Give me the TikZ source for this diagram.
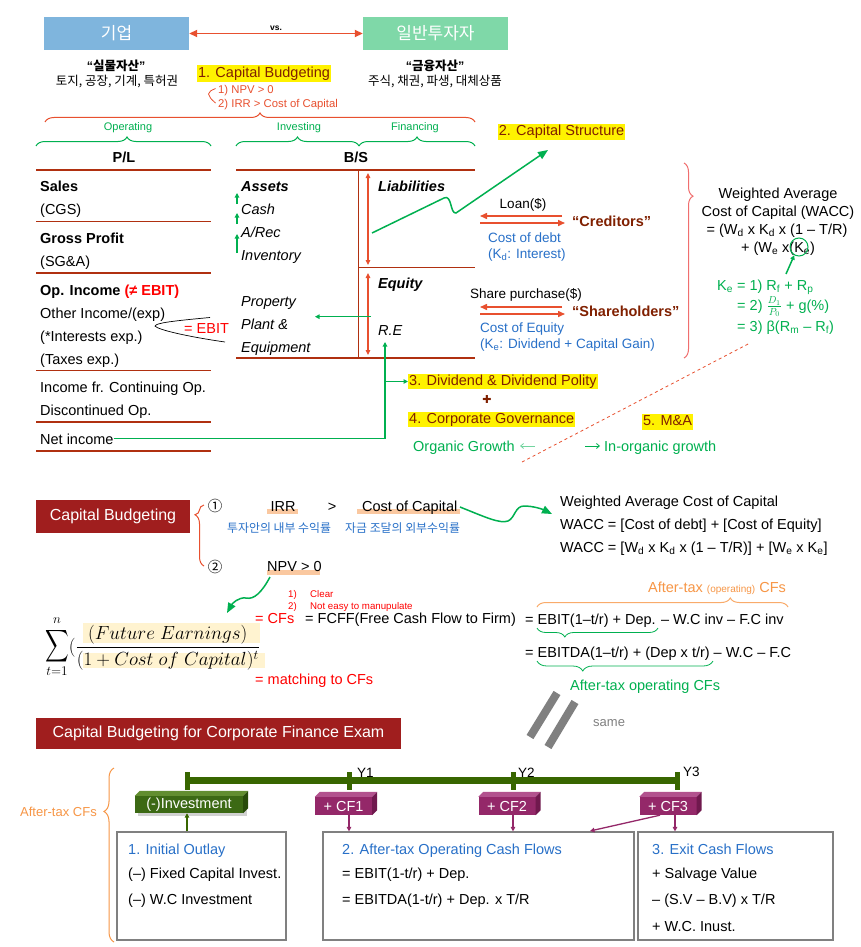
\documentclass[tikz,border=0pt]{standalone}
\usepackage{fix-cm}
\usepackage{exscale}
\usepackage[no-math]{fontspec}
\setmainfont{Liberation Sans}
\newfontfamily\kr{Noto Sans CJK KR}
\newfontfamily\dv{DejaVu Sans}
\usetikzlibrary{arrows.meta,decorations.pathreplacing,calc}
\newcommand\fz[1]{\fontsize{#1}{#1}\selectfont}
\definecolor{blueA}{RGB}{127,181,221}
\definecolor{greenA}{RGB}{127,216,168}
\definecolor{redA}{RGB}{232,80,47}
\definecolor{lineR}{RGB}{176,48,16}
\definecolor{dred}{RGB}{128,32,0}
\definecolor{grn}{RGB}{0,176,80}
\definecolor{blu}{RGB}{40,112,200}
\definecolor{orng}{RGB}{247,150,70}
\definecolor{peach}{RGB}{250,200,160}
\definecolor{ltyel}{RGB}{255,243,208}
\definecolor{boxred}{RGB}{160,30,30}
\definecolor{tlg}{RGB}{56,102,0}
\definecolor{magF}{RGB}{148,40,105}
\definecolor{magT}{RGB}{178,82,142}
\definecolor{magS}{RGB}{112,25,78}
\definecolor{invF}{RGB}{60,105,20}
\definecolor{invT}{RGB}{98,142,48}
\definecolor{invS}{RGB}{40,75,10}
\definecolor{pinkR}{RGB}{240,110,110}
\definecolor{rd}{RGB}{255,0,0}
\definecolor{gryA}{RGB}{128,128,128}
\newcommand\cubefaces[3]{%
  \fill[#2] (#1.north west) -- ++(5,-5) -- ($(#1.north east)+(5,-5)$) -- (#1.north east) -- cycle;
  \fill[#3] (#1.north east) -- ++(5,-5) -- ($(#1.south east)+(5,-5)$) -- (#1.south east) -- cycle;}
\begin{document}
\begin{tikzpicture}[x=1pt,y=-1pt,
  tx/.style={anchor=base west,inner sep=0pt,font=\fz{14.5}},
  txc/.style={anchor=base,inner sep=0pt,font=\fz{14.5}},
  hl/.style={anchor=west,fill=yellow,text=dred,inner xsep=1pt,inner ysep=1pt,text height=10.5pt,text depth=3pt,font=\fz{14.5}},
  arr/.style={-{Triangle[length=7pt,width=6pt]}},
  sarr/.style={-{Triangle[length=4.5pt,width=4.5pt]}},
  barr/.style={-{Triangle[length=10pt,width=8pt]}},
  thinarr/.style={line width=0.8pt,-{Straight Barb[length=3pt,width=5pt]}},
  darr/.style={{Triangle[length=8pt,width=7pt]}-{Triangle[length=8pt,width=7pt]}},
  vdarr/.style={{Triangle[length=5pt,width=4.5pt]}-{Triangle[length=5pt,width=4.5pt]}},
  rule/.style={lineR,line width=2pt},
  thinrule/.style={lineR,line width=1.1pt},
  brc/.style={decorate,line width=1pt},
  cfbox/.style={fill=magF,text=white,minimum width=57pt,minimum height=18pt,inner sep=0pt,font=\fz{14.5}},
  obox/.style={draw=gryA,line width=1.2pt,inner sep=0pt}
]
\fill[white] (0,0) rectangle (860,947);
\useasboundingbox (0,0) rectangle (860,947);

% ---------------- top ----------------
\node (firm) [fill=blueA,minimum width=145pt,minimum height=33pt,inner sep=0pt,text=white,font=\kr\fz{17}] at (116.5,33.5) {기업};
\node (invr) [fill=greenA,minimum width=145pt,minimum height=33pt,inner sep=0pt,text=white,font=\kr\fz{17}] at (435.5,33.5) {일반투자자};
\draw[redA,line width=1.8pt,darr] (firm.east) -- (invr.west);
\node (vs) [inner sep=0pt,font=\bfseries\fz{8.5}] at (276,28) {vs.};
\node (real) [anchor=base,inner sep=0pt,font=\bfseries\fz{12.5}] at (116,71) {“{\kr 실물자산}”};
\node (realx) [anchor=base,inner sep=0pt,font=\kr\fz{12.5}] at (117,85.5) {토지, 공장, 기계, 특허권};
\node (fin) [anchor=base,inner sep=0pt,font=\bfseries\fz{12.5}] at (435,71) {“{\kr 금융자산}”};
\node (finx) [anchor=base,inner sep=0pt,font=\kr\fz{12.5}] at (435,85.5) {주식, 채권, 파생, 대체상품};

\node (cb1) [hl,anchor=center,text height=11pt,text depth=3.5pt] at (264,73.5) {1. Capital Budgeting};
\node (npv0) [tx,font=\fz{11.3},text=redA] at (218,94) {1) NPV > 0};
\node (irr0) [tx,font=\fz{11.3},text=redA] at (218,108) {2) IRR > Cost of Capital};
\draw[redA,line width=0.8pt] (215.5,88.5) .. controls (210,91) .. (208.5,94) .. controls (210,98) .. (215.5,103);

\draw[redA,brc,decoration={brace,amplitude=9pt,aspect=0.5}] (45,122) -- (475,122);

\node (opl) [txc,font=\fz{11},text=grn] at (128,131) {Operating};
\node (invl) [txc,font=\fz{11},text=grn] at (299,131) {Investing};
\node (finl) [txc,font=\fz{11},text=grn] at (415,131) {Financing};
\draw[grn,brc,decoration={brace,amplitude=9pt,aspect=0.52}] (36,146) -- (211,146);
\draw[grn,brc,decoration={brace,amplitude=9pt,aspect=0.5}] (236,146) -- (359,146);
\draw[grn,brc,decoration={brace,amplitude=9pt,aspect=0.5}] (359,146) -- (475,146);

% ---------------- P/L ----------------
\node (pl) [txc,font=\bfseries\fz{14.5}] at (124,162) {P/L};
\draw[rule] (36,170) -- (211,170);
\node (sales) [tx,font=\bfseries\fz{14.5}] at (40,191.5) {Sales};
\node (cgs) [tx] at (40,214) {(CGS)};
\draw[thinrule] (36,221.5) -- (211,221.5);
\node (gp) [tx,font=\bfseries\fz{14.5}] at (40,243) {Gross Profit};
\node (sga) [tx] at (40,266) {(SG\&A)};
\draw[thinrule] (36,273) -- (211,273);
\node (opi) [tx,font=\bfseries\fz{14.5}] at (40,295) {Op. Income \textcolor{rd}{(≠ EBIT)}};
\node (oth) [tx] at (40,318) {Other Income/(exp)};
\node (intx) [tx] at (40,341) {(*Interests exp.)};
\node (tax) [tx] at (40,364) {(Taxes exp.)};
\draw[thinrule] (36,370.5) -- (211,370.5);
\node (cont) [tx] at (40,392) {Income fr. Continuing Op.};
\node (disc) [tx] at (40,415) {Discontinued Op.};
\draw[thinrule] (36,422) -- (211,422);
\node (ni) [tx] at (40,444) {Net income};
\draw[rule] (36,450.5) -- (211,450.5);

\draw[black,line width=0.7pt] (210,317.5) .. controls (172,321) and (156,323) .. (155,326) .. controls (158,330) and (190,337) .. (225,342);
\node (ebit) [tx,text=rd] at (184,333) {= EBIT};

% ---------------- B/S ----------------
\node (bs) [txc,font=\bfseries\fz{14.5}] at (356,162) {B/S};
\draw[rule] (236,170) -- (475,170);
\draw[thinrule] (358.5,170) -- (358.5,358);
\draw[thinrule] (358.5,267.5) -- (475,267.5);
\draw[lineR,line width=2.5pt] (236,358) -- (475,358);
\node (ast) [tx,font=\bfseries\itshape\fz{14.5}] at (241,191.5) {Assets};
\node (cash) [tx,font=\itshape\fz{14.5}] at (241,214) {Cash};
\node (arec) [tx,font=\itshape\fz{14.5}] at (241,237) {A/Rec};
\node (invt) [tx,font=\itshape\fz{14.5}] at (241,260) {Inventory};
\node (prop) [tx,font=\itshape\fz{14.5}] at (241,306) {Property};
\node (plant) [tx,font=\itshape\fz{14.5}] at (241,329) {Plant \&};
\node (equip) [tx,font=\itshape\fz{14.5}] at (241,352) {Equipment};
\node (liab) [tx,font=\bfseries\itshape\fz{14.5}] at (378,191.5) {Liabilities};
\node (eqty) [tx,font=\bfseries\itshape\fz{14.5}] at (378,288.5) {Equity};
\node (re) [tx,font=\itshape\fz{14.5}] at (378,335) {R.E};

\draw[grn,line width=1.3pt,sarr] (237,204) -- (237,193);
\draw[grn,line width=1.3pt,sarr] (237,224) -- (237,213);
\draw[grn,line width=1.3pt,sarr] (237,253) -- (237,234);
\draw[redA,line width=1.2pt,vdarr] (368,173) -- (368,265);
\draw[redA,line width=1.2pt,vdarr] (368,273) -- (368,355);

\coordinate (reL) at (371,316.7);
\coordinate (ppeR) at (315,316.7);
\draw[grn,line width=1.3pt,sarr] (reL) -- (ppeR);

% Net income path
\coordinate (jn) at (385,440);
\coordinate (reB) at (385,342);
\draw[grn,line width=1.3pt] (ni.east) -- (ni.east -| jn);
\draw[grn,line width=1.3pt,sarr] (ni.east -| jn) -- (reB);

% ---------------- capital structure ----------------
\node (cs) [hl,anchor=center] at (561.5,132) {2. Capital Structure};
\coordinate (zz) at (372,233);
\coordinate (cstip) at (548,150);
\draw[grn,line width=1.5pt,barr] (zz) -- (444,198) .. controls (452,194) and (450,214) .. (456,213) -- (cstip);

\node (loan) [txc,font=\fz{13.5}] at (523,208) {Loan(\$)};
\coordinate (la1) at (562,216); \coordinate (la2) at (480,216);
\coordinate (lb1) at (480,223); \coordinate (lb2) at (565,223);
\draw[redA,line width=1.5pt,arr] (la1) -- (la2);
\draw[redA,line width=1.5pt,arr] (lb1) -- (lb2);
\node (cred) [tx,font=\bfseries\fz{14.5},text=dred] at (572,226) {“Creditors”};
\node (cod) [tx,font=\fz{13.5},text=blu] at (488,242) {Cost of debt};
\node (kd) [tx,font=\fz{13.5},text=blu] at (488,258) {(K\textsubscript{d}: Interest)};

\node (shp) [tx,font=\fz{13.5}] at (470,298) {Share purchase(\$)};
\coordinate (sa1) at (562,307); \coordinate (sa2) at (480,307);
\coordinate (sb1) at (480,314); \coordinate (sb2) at (565,314);
\draw[redA,line width=1.5pt,arr] (sa1) -- (sa2);
\draw[redA,line width=1.5pt,arr] (sb1) -- (sb2);
\node (shh) [tx,font=\bfseries\fz{14.5},text=dred] at (572,316) {“Shareholders”};
\node (coe) [tx,font=\fz{13.5},text=blu] at (480,332) {Cost of Equity};
\node (ke) [tx,font=\fz{13.5},text=blu] at (480,348) {(K\textsubscript{e}: Dividend + Capital Gain)};

\draw[pinkR,brc,decoration={brace,amplitude=9pt,aspect=0.17}] (684,163) -- (684,358);

\node (w1) [txc] at (778,198) {Weighted Average};
\node (w2) [txc] at (778,216) {Cost of Capital (WACC)};
\node (w3) [txc] at (777,234) {= (W\textsubscript{d} x K\textsubscript{d} x (1 – T/R)};
\node (w4) [txc] at (778,252) {+ (W\textsubscript{e} x(K\textsubscript{e})};
\node (kc) [circle,draw=grn,line width=1pt,minimum size=18pt,inner sep=0pt] at (799,247) {};
\node (ke1) [tx,text=grn] at (717,290) {K\textsubscript{e} = 1) R\textsubscript{f} + R\textsubscript{p}};
\node (ke2) [tx,text=grn] at (737,310) {= 2) $\frac{D_1}{P_0}$ + g(\%)};
\node (ke3) [tx,text=grn] at (737,331) {= 3) β(R\textsubscript{m} – R\textsubscript{f})};
\coordinate (ketail) at (786,274);
\draw[grn,line width=1.5pt,sarr] (ketail) -- (kc.240);

\coordinate (dsA) at (522,462);
\coordinate (dsB) at (750,343);
\draw[redA,dashed,line width=0.8pt] (dsA) -- (dsB);

% ---------------- dividend etc ----------------
\node (div) [hl] at (408,381.5) {3. Dividend \& Dividend Polity};
\draw[grn,line width=1.3pt,sarr] (div.west -| jn) -- (div.west);
\node (plus) [inner sep=0pt,font=\dv\fz{11},text=dred] at (487,399) {✚};
\node (gov) [hl] at (408,419.5) {4. Corporate Governance};
\node (ma) [hl,anchor=center] at (667.5,422) {5. M\&A};
\node (org) [tx,text=grn] at (413,451) {Organic Growth};
\node (inorg) [tx,text=grn] at (604,451) {In-organic growth};
\coordinate (oa1) at (535,446); \coordinate (oa2) at (520,446);
\coordinate (ia1) at (585,446); \coordinate (ia2) at (600,446);
\draw[grn!55,thinarr] (oa1) -- (oa2);
\draw[grn,thinarr] (ia1) -- (ia2);

% ---------------- capital budgeting ----------------
\node (cbx) [fill=boxred,text=white,minimum width=154pt,minimum height=33pt,inner sep=0pt,font=\fz{16}] at (113,516.5) {Capital Budgeting};
\draw[redA,brc,decoration={brace,amplitude=9pt,aspect=0.84}] (204,566) -- (204,505);
\node (c1) [inner sep=0pt,font=\kr\fz{14.5}] at (215,506) {①};
\node (c2) [inner sep=0pt,font=\kr\fz{14.5}] at (215,567) {②};
\fill[peach] (267,508.5) rectangle (298,514);
\fill[peach] (357,508.5) rectangle (460,514);
\fill[peach] (267,569.5) rectangle (320,575);
\node (irr) [txc] at (283,511) {IRR};
\node (gt) [txc] at (332,511) {>};
\node (coc) [tx] at (362,511) {Cost of Capital};
\node (krA) [tx,font=\kr\fz{11.9},text=blu] at (227,532) {투자안의 내부 수익률};
\node (krB) [tx,font=\kr\fz{11.9},text=blu] at (345,532) {자금 조달의 외부수익률};
\node (npv) [tx] at (267,571) {NPV > 0};
\node (n1) [tx,font=\fz{9.7},text=rd] at (288,597) {1)};
\node (n1t) [tx,font=\fz{9.7},text=rd] at (310,597) {Clear};
\node (n2) [tx,font=\fz{9.7},text=rd] at (288,609) {2)};
\node (n2t) [tx,font=\fz{9.7},text=rd] at (310,609) {Not easy to manupulate};

\node (wm1) [tx] at (560,506) {Weighted Average Cost of Capital};
\node (wm2) [tx] at (560,529) {WACC = [Cost of debt] + [Cost of Equity]};
\node (wm3) [tx] at (560,552) {WACC = [W\textsubscript{d} x K\textsubscript{d} x (1 – T/R)] + [W\textsubscript{e} x K\textsubscript{e}]};
\coordinate (cocE) at (460,507);
\coordinate (wtip) at (552,514);
\draw[grn,line width=1.5pt,barr] (cocE) .. controls (485,517) and (500,524) .. (508,521) .. controls (515,518) and (515,506) .. (524,506) .. controls (533,506) and (542,509) .. (wtip);

\coordinate (npvB) at (270,577);
\coordinate (sumtip) at (227,613);
\draw[grn,line width=1.5pt,barr] (npvB) .. controls (262,592) and (254,600) .. (246,598) .. controls (238,597) and (232,604) .. (sumtip);

% formula
\fill[ltyel] (83,623) rectangle (260,643);
\fill[ltyel] (83,653) rectangle (265,668);
\node (sum) [anchor=base west,inner sep=0pt,font=\fz{19}] at (45,652)
  {$\displaystyle\mathop{\scalebox{0.95}[1.3]{$\displaystyle\sum$}}\limits_{t=1}^{\rule[-2.5pt]{0pt}{1pt}n}(\frac{(Future\ Earnings)}{(1+Cost\ of\ Capital)^{t}}$};

\node (atoc) [txc,text=orng] at (717,592) {After-tax {\fz{10}(operating)} CFs};
\draw[orng!80,brc,decoration={brace,amplitude=9pt,aspect=0.77}] (537,607) -- (788,607);
\node (cfs) [tx,text=rd] at (255,623) {= CFs};
\node (fcff) [tx] at (305,623) {= FCFF(Free Cash Flow to Firm)};
\node (e1) [tx] at (525,624) {= EBIT(1–t/r) + Dep. – W.C inv – F.C inv};
\draw[grn,brc,line width=0.8pt,decoration={brace,amplitude=9pt,aspect=0.77}] (658,628) -- (537,628);
\node (e2) [tx] at (525,657) {= EBITDA(1–t/r) + (Dep x t/r) – W.C – F.C};
\draw[grn,brc,line width=0.8pt,decoration={brace,amplitude=10pt,aspect=0.74}] (713,661) -- (537,661);
\node (atcf) [tx,text=grn] at (570,690) {After-tax operating CFs};
\node (mcf) [tx,text=rd] at (255,684) {= matching to CFs};

\draw[gryA,line width=8pt] (530,737) -- (557,693);
\draw[gryA,line width=8pt] (548,747) -- (575,702);
\node (same) [tx,font=\fz{13},text=gryA] at (593,726) {same};

% ---------------- exam section ----------------
\node (cbe) [fill=boxred,text=white,minimum width=365pt,minimum height=31pt,inner sep=0pt,font=\fz{16}] at (218.5,733.5) {Capital Budgeting for Corporate Finance Exam};
\node (atcfs) [tx,font=\fz{13},text=orng] at (20,816.5) {After-tax CFs};
\draw[orng,brc,decoration={brace,amplitude=10pt,aspect=0.75}] (114,942) -- (114,768);

\coordinate (y0) at (187,780.5);
\coordinate (y1) at (349,780.5);
\coordinate (y2) at (513,780.5);
\coordinate (y3) at (677,780.5);
\draw[tlg,line width=6.5pt] (y0) -- (y3);
\foreach \c in {y0,y1,y2,y3} \draw[tlg,line width=5pt] ($(\c)+(0,-8.5)$) -- ($(\c)+(0,9.5)$);
\node (ly1) [tx,font=\fz{13.5}] at (357,777) {Y1};
\node (ly2) [tx,font=\fz{13.5}] at (518,777) {Y2};
\node (ly3) [tx,font=\fz{13.5}] at (683,776) {Y3};

\fill[black!18] (138,799) rectangle (247,816);
\node (invb) [fill=invF,text=white,minimum width=108pt,minimum height=17pt,inner sep=0pt,font=\fz{14.5}] at (189,804.5) {(-)Investment};
\cubefaces{invb}{invT}{invS}
\node (cf1) [cfbox] at (343.5,806) {+ CF1};
\cubefaces{cf1}{magT}{magS}
\node (cf2) [cfbox] at (507,806) {+ CF2};
\cubefaces{cf2}{magT}{magS}
\node (cf3) [cfbox] at (668,806) {+ CF3};
\cubefaces{cf3}{magT}{magS}

\node (b1) [obox,minimum width=169pt,minimum height=108pt] at (201.5,886) {};
\node (b2) [obox,minimum width=311pt,minimum height=108pt] at (478.5,886) {};
\node (b3) [obox,minimum width=195pt,minimum height=108pt] at (735.5,886) {};

\draw[tlg,line width=1.5pt,sarr] (y0 |- b1.north) -- (y0 |- invb.south);
\draw[magF,line width=1.3pt,sarr] (y1 |- cf1.south) -- (y1 |- b2.north);
\draw[magF,line width=1.3pt,sarr] (y2 |- cf2.south) -- (y2 |- b2.north);
\draw[magF,line width=1.3pt,sarr] ($(y3 |- cf3.south)+(-2,0)$) -- ($(y3 |- b3.north)+(-2,0)$);
\coordinate (b2tip) at (590,831);
\draw[magF,line width=1.3pt,sarr] ($(cf3.south)+(-8,0)$) -- (b2tip);

\node (t11) [tx,text=blu] at (128,854) {1. Initial Outlay};
\node (t12) [tx] at (128,878) {(–) Fixed Capital Invest.};
\node (t13) [tx] at (128,904) {(–) W.C Investment};
\node (t21) [tx,text=blu] at (342,854) {2. After-tax Operating Cash Flows};
\node (t22) [tx] at (342,878) {= EBIT(1-t/r) + Dep.};
\node (t23) [tx] at (342,904) {= EBITDA(1-t/r) + Dep. x T/R};
\node (t31) [tx,text=blu] at (652,854) {3. Exit Cash Flows};
\node (t32) [tx] at (652,878) {+ Salvage Value};
\node (t33) [tx] at (652,904) {– (S.V – B.V) x T/R};
\node (t34) [tx] at (652,931) {+ W.C. Inust.};
\end{tikzpicture}
\end{document}
